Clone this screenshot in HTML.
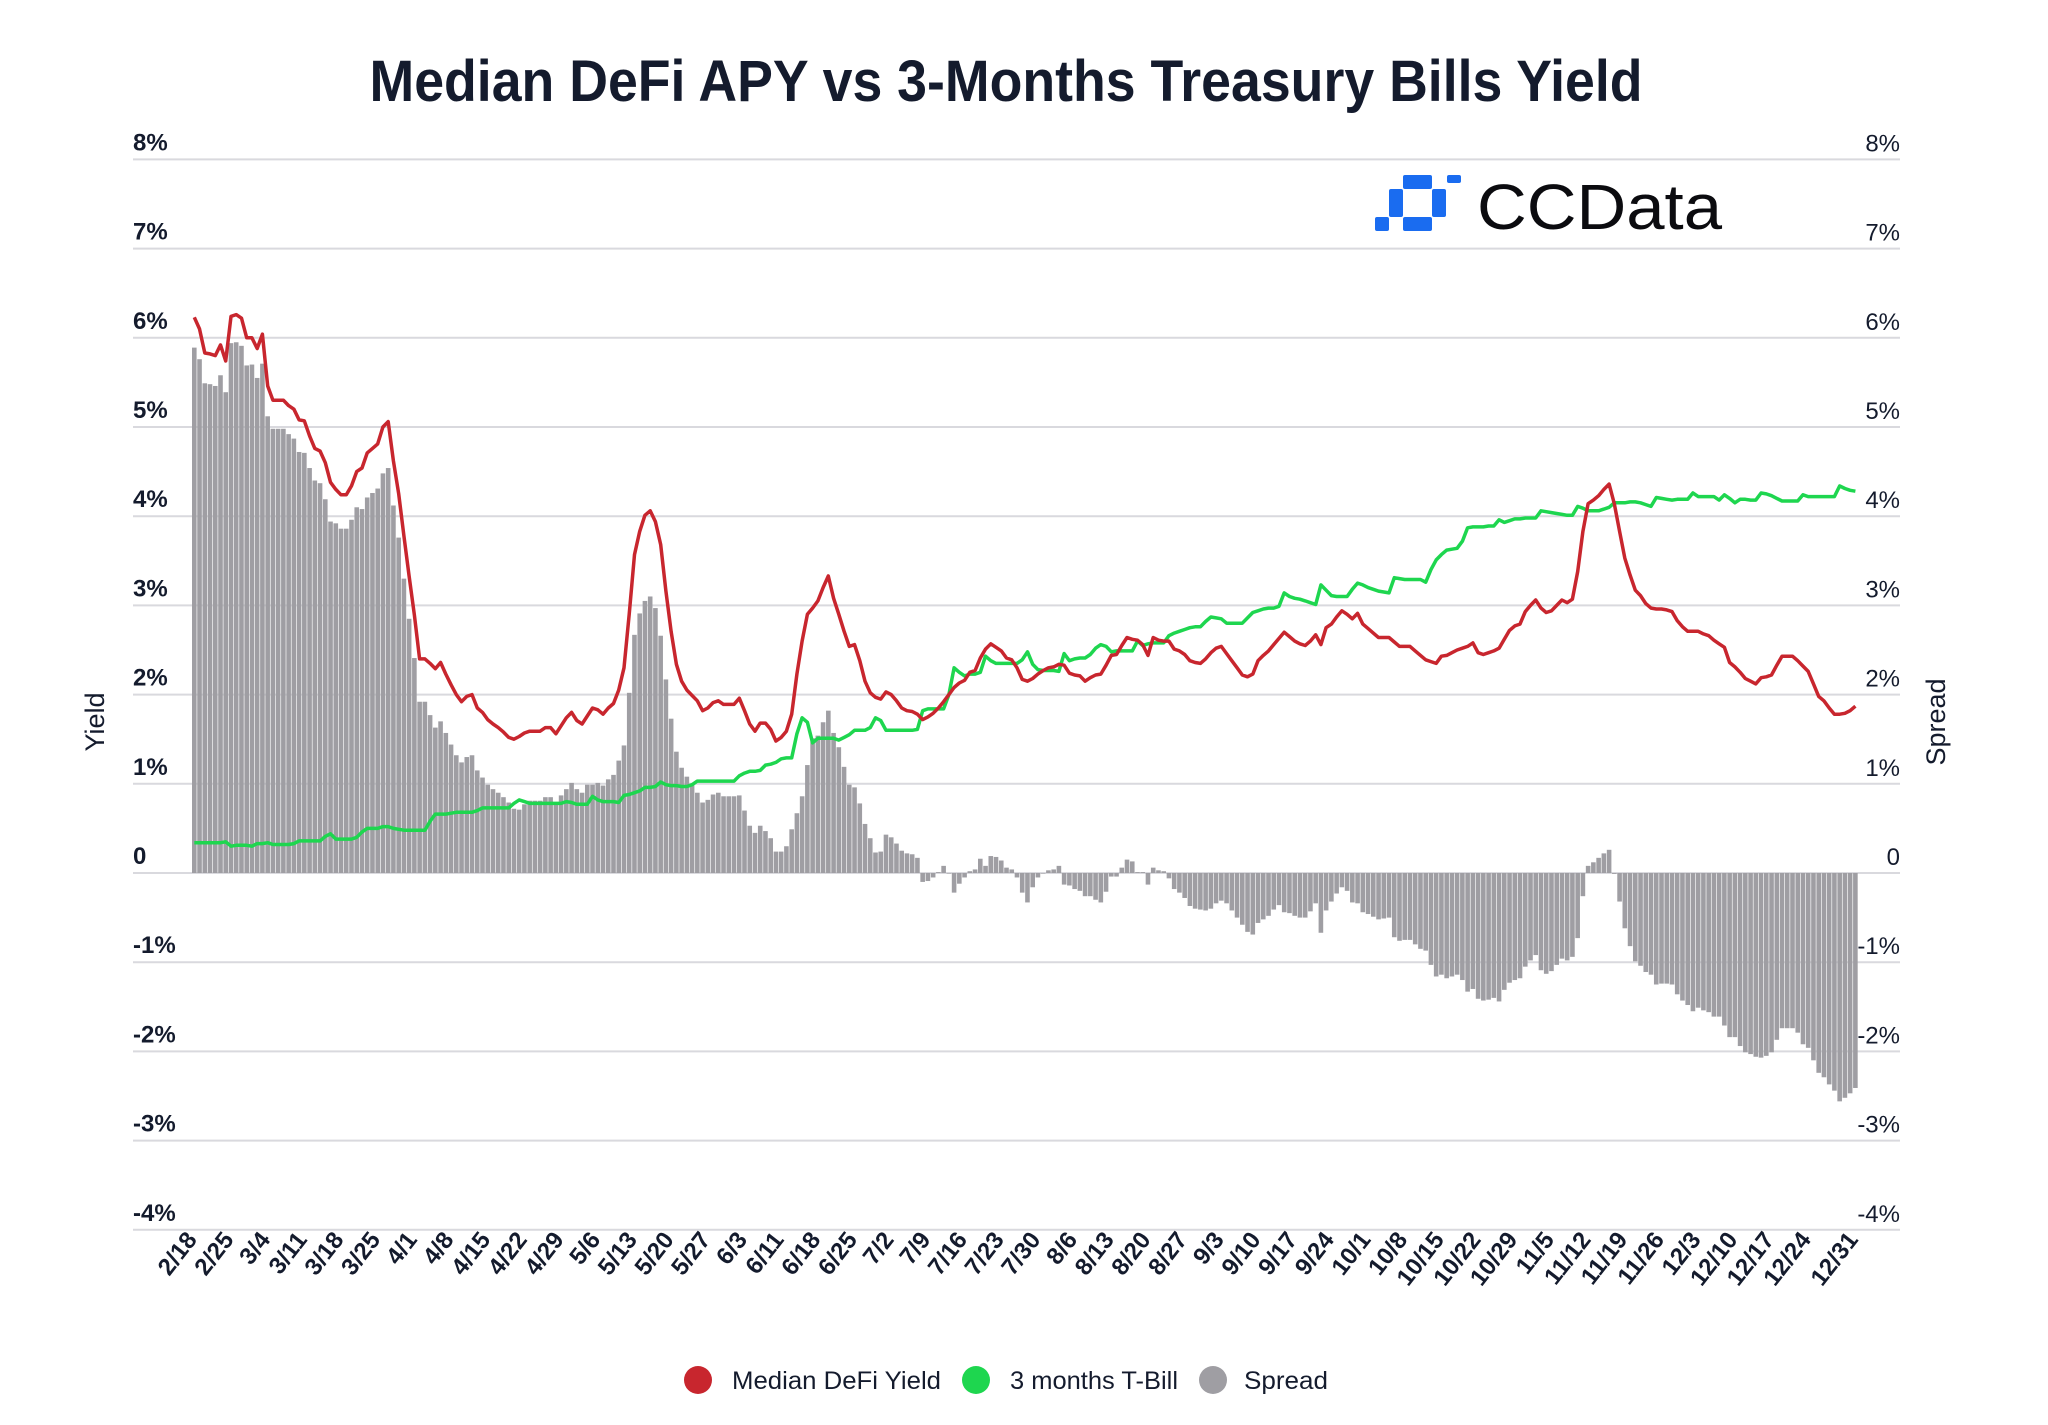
<!DOCTYPE html>
<html><head><meta charset="utf-8"><title>Median DeFi APY vs 3-Months Treasury Bills Yield</title>
<style>
html,body{margin:0;padding:0;background:#fff;}
svg{display:block;font-family:"Liberation Sans",sans-serif;}
</style></head>
<body>
<svg id="chart" width="2048" height="1425" viewBox="0 0 2048 1425" xmlns="http://www.w3.org/2000/svg">
<rect width="2048" height="1425" fill="#ffffff"/>
<text x="1006" y="101" text-anchor="middle" font-size="58" font-weight="bold" fill="#141b2d" textLength="1273" lengthAdjust="spacingAndGlyphs">Median DeFi APY vs 3-Months Treasury Bills Yield</text>
<g id="grid"></g>
<g id="yl"></g>
<g id="yr"></g>
<g id="bars"></g>
<g id="lines"></g>
<g id="xl"></g>
<text transform="translate(104,722) rotate(-90)" text-anchor="middle" font-size="27" fill="#141b2d">Yield</text>
<text transform="translate(1945,722) rotate(-90)" text-anchor="middle" font-size="27" fill="#141b2d">Spread</text>
<g>
<g fill="#1a6cf0">
<rect x="1403" y="175" width="29" height="14" rx="2"/>
<rect x="1447" y="175" width="14" height="8" rx="2"/>
<rect x="1389" y="189" width="14" height="28" rx="2"/>
<rect x="1432" y="189" width="14" height="28" rx="2"/>
<rect x="1403" y="217" width="29" height="14" rx="2"/>
<rect x="1375" y="217" width="14" height="14" rx="2"/>
</g>
<text x="1477" y="229" font-size="64" font-weight="500" fill="#0b0b0f" textLength="245" lengthAdjust="spacingAndGlyphs">CCData</text>
</g>
<g>
<g><circle cx="698" cy="1380" r="14" fill="#c8262e"/><text x="732" y="1389" font-size="25" fill="#141b2d" textLength="209" lengthAdjust="spacingAndGlyphs">Median DeFi Yield</text></g>
<g><circle cx="976" cy="1380" r="14" fill="#1ed64f"/><text x="1010" y="1389" font-size="25" fill="#141b2d" textLength="168" lengthAdjust="spacingAndGlyphs">3 months T-Bill</text></g>
<g><circle cx="1213" cy="1380" r="14" fill="#9f9ea3"/><text x="1244" y="1389" font-size="25" fill="#141b2d" textLength="84" lengthAdjust="spacingAndGlyphs">Spread</text></g>
</g>
</svg>
<script>
const defiYield = [
6.23,6.1,5.83,5.82,5.8,5.92,5.74,6.24,6.26,6.22,
6.0,6.0,5.88,6.04,5.46,5.3,5.3,5.3,5.24,5.2,
5.08,5.07,4.9,4.76,4.73,4.6,4.38,4.3,4.24,4.24,
4.34,4.5,4.54,4.71,4.76,4.81,5.0,5.06,4.62,4.25,
3.78,3.33,2.89,2.4,2.4,2.35,2.29,2.36,2.23,2.11,
2.0,1.92,1.98,2.0,1.85,1.8,1.72,1.67,1.63,1.58,
1.52,1.5,1.53,1.57,1.59,1.59,1.59,1.63,1.63,1.56,
1.65,1.74,1.8,1.71,1.67,1.76,1.85,1.83,1.78,1.85,
1.9,2.05,2.3,2.9,3.57,3.83,4.01,4.06,3.94,3.68,
3.16,2.71,2.34,2.15,2.05,1.99,1.93,1.82,1.85,1.91,
1.93,1.89,1.89,1.89,1.96,1.82,1.67,1.59,1.68,1.68,
1.61,1.48,1.52,1.59,1.78,2.23,2.6,2.9,2.97,3.05,
3.2,3.33,3.08,2.9,2.71,2.54,2.56,2.38,2.15,2.02,
1.97,1.95,2.03,2.0,1.93,1.85,1.82,1.81,1.78,1.72,
1.75,1.79,1.85,1.92,2.0,2.08,2.13,2.16,2.25,2.27,
2.41,2.51,2.57,2.53,2.49,2.41,2.39,2.3,2.17,2.15,
2.18,2.23,2.27,2.3,2.31,2.34,2.33,2.24,2.22,2.21,
2.15,2.19,2.22,2.23,2.33,2.44,2.45,2.55,2.64,2.62,
2.61,2.56,2.44,2.64,2.61,2.6,2.6,2.51,2.49,2.45,
2.38,2.36,2.35,2.4,2.47,2.52,2.54,2.46,2.38,2.3,
2.22,2.2,2.23,2.38,2.44,2.49,2.56,2.63,2.7,2.65,
2.6,2.57,2.55,2.6,2.67,2.56,2.75,2.79,2.87,2.94,
2.9,2.85,2.91,2.79,2.74,2.69,2.64,2.64,2.64,2.59,
2.54,2.54,2.54,2.49,2.44,2.39,2.37,2.35,2.43,2.44,
2.47,2.5,2.52,2.54,2.58,2.47,2.45,2.47,2.49,2.52,
2.62,2.72,2.77,2.79,2.93,3.0,3.06,2.97,2.92,2.94,
3.0,3.06,3.03,3.07,3.38,3.83,4.14,4.18,4.23,4.3,
4.36,4.14,3.83,3.53,3.34,3.17,3.11,3.02,2.97,2.96,
2.96,2.95,2.93,2.83,2.76,2.71,2.71,2.71,2.68,2.66,
2.61,2.57,2.53,2.36,2.31,2.25,2.18,2.15,2.12,2.19,
2.2,2.22,2.33,2.43,2.43,2.43,2.38,2.32,2.26,2.12,
1.98,1.93,1.85,1.78,1.78,1.79,1.82,1.87];
const tBill = [
.34,.34,.34,.34,.34,.34,.35,.3,.31,.31,
.31,.3,.33,.33,.34,.32,.32,.32,.32,.33,
.36,.36,.36,.36,.36,.41,.44,.38,.38,.38,
.38,.4,.46,.5,.5,.5,.52,.52,.5,.49,
.48,.48,.48,.48,.48,.58,.66,.66,.66,.67,
.68,.68,.68,.68,.7,.73,.73,.73,.73,.73,
.73,.78,.82,.8,.78,.78,.78,.78,.78,.78,
.78,.8,.79,.77,.77,.77,.86,.82,.8,.8,
.8,.79,.87,.88,.9,.92,.96,.96,.97,1.02,
.99,.98,.98,.97,.97,.99,1.03,1.03,1.03,1.03,
1.03,1.03,1.03,1.03,1.09,1.12,1.14,1.14,1.15,1.21,
1.22,1.24,1.28,1.29,1.29,1.56,1.74,1.69,1.46,1.51,
1.51,1.51,1.51,1.49,1.52,1.55,1.6,1.6,1.6,1.63,
1.74,1.71,1.6,1.6,1.6,1.6,1.6,1.6,1.61,1.82,
1.84,1.84,1.84,1.84,2.0,2.3,2.25,2.21,2.23,2.23,
2.25,2.43,2.38,2.35,2.35,2.35,2.35,2.35,2.39,2.48,
2.34,2.28,2.27,2.27,2.27,2.26,2.46,2.38,2.4,2.41,
2.41,2.45,2.52,2.56,2.54,2.48,2.49,2.49,2.49,2.49,
2.6,2.55,2.57,2.58,2.58,2.58,2.66,2.69,2.71,2.73,
2.75,2.76,2.76,2.82,2.87,2.86,2.85,2.8,2.8,2.8,
2.8,2.86,2.92,2.94,2.96,2.97,2.97,2.99,3.14,3.1,
3.08,3.07,3.05,3.03,3.01,3.23,3.17,3.11,3.1,3.1,
3.1,3.18,3.25,3.23,3.2,3.18,3.16,3.15,3.14,3.31,
3.3,3.29,3.29,3.29,3.29,3.26,3.4,3.51,3.57,3.62,
3.63,3.64,3.72,3.87,3.88,3.88,3.88,3.89,3.89,3.96,
3.93,3.95,3.97,3.97,3.98,3.98,3.98,4.06,4.05,4.04,
4.03,4.02,4.01,4.01,4.11,4.09,4.06,4.06,4.06,4.08,
4.1,4.15,4.15,4.15,4.16,4.16,4.15,4.13,4.11,4.21,
4.2,4.19,4.18,4.19,4.19,4.19,4.26,4.22,4.22,4.22,
4.22,4.18,4.24,4.2,4.15,4.19,4.19,4.18,4.18,4.26,
4.25,4.23,4.2,4.17,4.17,4.17,4.17,4.24,4.22,4.22,
4.22,4.22,4.22,4.22,4.34,4.31,4.29,4.28];
const yTicks = [8,7,6,5,4,3,2,1,0,-1,-2,-3,-4];
const yTickLabels = ["8%","7%","6%","5%","4%","3%","2%","1%","0","-1%","-2%","-3%","-4%"];
const xTickLabels = ["2/18","2/25","3/4","3/11","3/18","3/25","4/1","4/8","4/15","4/22","4/29","5/6","5/13","5/20","5/27","6/3","6/11","6/18","6/25","7/2","7/9","7/16","7/23","7/30","8/6","8/13","8/20","8/27","9/3","9/10","9/17","9/24","10/1","10/8","10/15","10/22","10/29","11/5","11/12","11/19","11/26","12/3","12/10","12/17","12/24","12/31"];
const xTickDays = [0,7,14,21,28,35,42,49,56,63,70,77,84,91,98,105,112,119,126,133,140,147,154,161,168,175,182,189,196,203,210,217,224,231,238,245,252,259,266,273,280,287,294,301,308,317];
const spreadVals = defiYield.map((v,i)=>v - tBill[i]);

const NS = "http://www.w3.org/2000/svg";
const X0 = 192, STEP = 5.24, Y0 = 873, YS = 89.2;
const xs = d => X0 + d*STEP;
const ys = v => Y0 - v*YS;
function mk(tag, attrs, parent){const e=document.createElementNS(NS,tag);for(const k in attrs)e.setAttribute(k,attrs[k]);parent.appendChild(e);return e;}

const grid=document.getElementById('grid'), yl=document.getElementById('yl'), yr=document.getElementById('yr');
yTicks.forEach((t,i)=>{
  const y=ys(t);
  const g=mk('line',{x1:133,x2:1900,y1:y,y2:y,stroke:'#d9d9de','stroke-width':2},grid);
  
  
  const a=mk('text',{x:133,y:y-9,'font-size':24,'font-weight':'bold',fill:'#141b2d'},yl);
  a.textContent=yTickLabels[i];
  
  
  const b=mk('text',{x:1900,y:y-8,'font-size':24,'text-anchor':'end',fill:'#141b2d'},yr);
  b.textContent=yTickLabels[i];
  
  
});

const bars=document.getElementById('bars');
spreadVals.forEach((v,i)=>{
  const y1=ys(Math.max(v,0)), y2=ys(Math.min(v,0));
  const r=mk('rect',{x:xs(i),y:y1,width:4.6,height:Math.max(y2-y1,0.5),fill:'#9f9ea3'},bars);
  
  
});

const lines=document.getElementById('lines');
function path(arr){return arr.map((v,i)=>(i?'L':'M')+(xs(i)+2.3).toFixed(1)+','+ys(v).toFixed(1)).join('');}
const gl=mk('path',{d:path(tBill),fill:'none',stroke:'#1ed64f','stroke-width':3.5,'stroke-linejoin':'round'},lines);


const rl=mk('path',{d:path(defiYield),fill:'none',stroke:'#c8262e','stroke-width':3.5,'stroke-linejoin':'round'},lines);



const xl=document.getElementById('xl');
xTickLabels.forEach((lab,i)=>{
  const x=xs(xTickDays[i])+6, y=1240;
  const t=mk('text',{x:x,y:y,'font-size':24,'font-weight':600,'text-anchor':'end',fill:'#141b2d',transform:'rotate(-52 '+x+' '+y+')'},xl);
  t.textContent=lab;
  
  
});
</script>
</body></html>
